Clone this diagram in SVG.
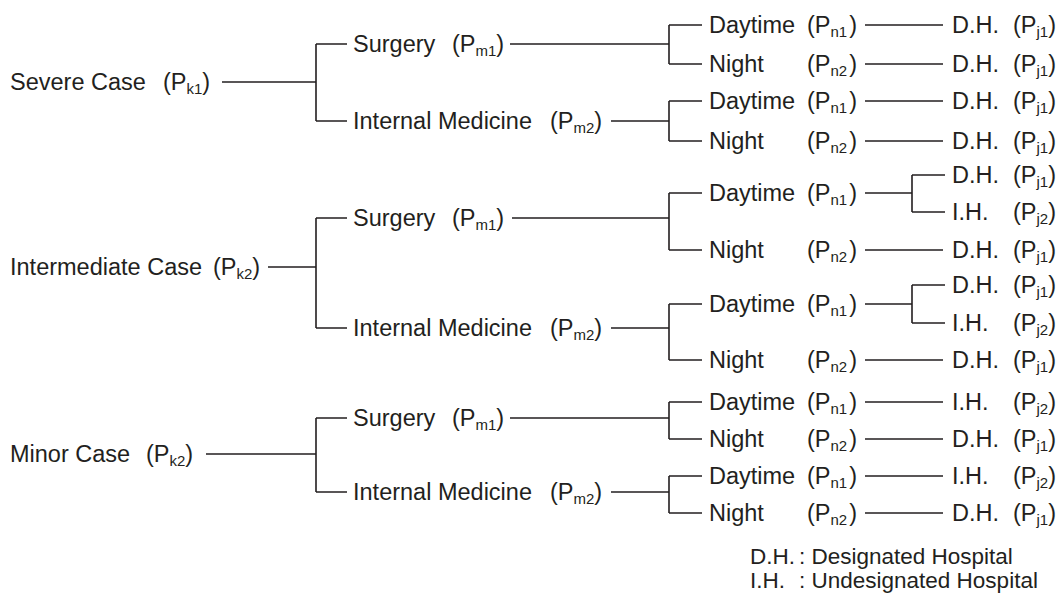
<svg xmlns="http://www.w3.org/2000/svg" width="1059" height="593" viewBox="0 0 1059 593">
<style>
text{font-family:"Liberation Sans",Arial,sans-serif;font-size:23.5px;fill:#231f20}
.s{font-size:15px}
.lg{font-size:22.5px}
.c{fill:none;stroke:#231f20;stroke-width:1.6}
</style>
<rect width="1059" height="593" fill="#fff"/>
<g id="connectors" class="c">
<path d="M222,82H316M316,44V121M316,44H347M316,121H347"/>
<path d="M268,267H316M316,218V328M316,218H347M316,328H347"/>
<path d="M206,454H316M316,418V492M316,418H347M316,492H347"/>
<path d="M510,44H669M669,25V64M669,25H702M669,64H702"/>
<path d="M611,121H669M669,101V141M669,101H702M669,141H702"/>
<path d="M512,218H669M669,193V250M669,193H702M669,250H702"/>
<path d="M611,328H669M669,304V360M669,304H702M669,360H702"/>
<path d="M510,418H669M669,402V439M669,402H702M669,439H702"/>
<path d="M611,492H669M669,476V513M669,476H702M669,513H702"/>
<path d="M865,25H943M865,64H943M865,101H943M865,141H943"/>
<path d="M865,193H912M912,175V212M912,175H945M912,212H945M865,250H943"/>
<path d="M865,304H912M912,285V323M912,285H945M912,323H945M865,360H943"/>
<path d="M865,402H943M865,439H943M865,476H943M865,513H943"/>
</g>
<g id="k1"><text x="10" y="90">Severe Case</text><text x="163" y="90">(P<tspan class="s" dy="4">k1</tspan><tspan dy="-4">)</tspan></text></g>
<g id="k2i"><text x="10" y="275">Intermediate Case</text><text x="213" y="275">(P<tspan class="s" dy="4">k2</tspan><tspan dy="-4">)</tspan></text></g>
<g id="k2m"><text x="10" y="462">Minor Case</text><text x="146" y="462">(P<tspan class="s" dy="4">k2</tspan><tspan dy="-4">)</tspan></text></g>
<g id="m1a"><text x="353" y="52">Surgery</text><text x="452" y="52">(P<tspan class="s" dy="4">m1</tspan><tspan dy="-4">)</tspan></text></g>
<g id="m2a"><text x="353" y="129">Internal Medicine</text><text x="550" y="129">(P<tspan class="s" dy="4">m2</tspan><tspan dy="-4">)</tspan></text></g>
<g id="m1b"><text x="353" y="226">Surgery</text><text x="452" y="226">(P<tspan class="s" dy="4">m1</tspan><tspan dy="-4">)</tspan></text></g>
<g id="m2b"><text x="353" y="336">Internal Medicine</text><text x="550" y="336">(P<tspan class="s" dy="4">m2</tspan><tspan dy="-4">)</tspan></text></g>
<g id="m1c"><text x="353" y="426">Surgery</text><text x="452" y="426">(P<tspan class="s" dy="4">m1</tspan><tspan dy="-4">)</tspan></text></g>
<g id="m2c"><text x="353" y="500">Internal Medicine</text><text x="550" y="500">(P<tspan class="s" dy="4">m2</tspan><tspan dy="-4">)</tspan></text></g>
<g id="n1a"><text x="709" y="33">Daytime</text><text x="807" y="33">(P<tspan class="s" dy="4">n1</tspan><tspan dx="2" dy="-4">)</tspan></text></g>
<g id="n2a"><text x="709" y="72">Night</text><text x="807" y="72">(P<tspan class="s" dy="4">n2</tspan><tspan dx="2" dy="-4">)</tspan></text></g>
<g id="n1b"><text x="709" y="109">Daytime</text><text x="807" y="109">(P<tspan class="s" dy="4">n1</tspan><tspan dx="2" dy="-4">)</tspan></text></g>
<g id="n2b"><text x="709" y="149">Night</text><text x="807" y="149">(P<tspan class="s" dy="4">n2</tspan><tspan dx="2" dy="-4">)</tspan></text></g>
<g id="n1c"><text x="709" y="201">Daytime</text><text x="807" y="201">(P<tspan class="s" dy="4">n1</tspan><tspan dx="2" dy="-4">)</tspan></text></g>
<g id="n2c"><text x="709" y="258">Night</text><text x="807" y="258">(P<tspan class="s" dy="4">n2</tspan><tspan dx="2" dy="-4">)</tspan></text></g>
<g id="n1d"><text x="709" y="312">Daytime</text><text x="807" y="312">(P<tspan class="s" dy="4">n1</tspan><tspan dx="2" dy="-4">)</tspan></text></g>
<g id="n2d"><text x="709" y="368">Night</text><text x="807" y="368">(P<tspan class="s" dy="4">n2</tspan><tspan dx="2" dy="-4">)</tspan></text></g>
<g id="n1e"><text x="709" y="410">Daytime</text><text x="807" y="410">(P<tspan class="s" dy="4">n1</tspan><tspan dx="2" dy="-4">)</tspan></text></g>
<g id="n2e"><text x="709" y="447">Night</text><text x="807" y="447">(P<tspan class="s" dy="4">n2</tspan><tspan dx="2" dy="-4">)</tspan></text></g>
<g id="n1f"><text x="709" y="484">Daytime</text><text x="807" y="484">(P<tspan class="s" dy="4">n1</tspan><tspan dx="2" dy="-4">)</tspan></text></g>
<g id="n2f"><text x="709" y="521">Night</text><text x="807" y="521">(P<tspan class="s" dy="4">n2</tspan><tspan dx="2" dy="-4">)</tspan></text></g>
<g id="j01"><text x="952" y="33">D.H.</text><text x="1013" y="33">(P<tspan class="s" dy="4">j1</tspan><tspan dy="-4">)</tspan></text></g>
<g id="j02"><text x="952" y="72">D.H.</text><text x="1013" y="72">(P<tspan class="s" dy="4">j1</tspan><tspan dy="-4">)</tspan></text></g>
<g id="j03"><text x="952" y="109">D.H.</text><text x="1013" y="109">(P<tspan class="s" dy="4">j1</tspan><tspan dy="-4">)</tspan></text></g>
<g id="j04"><text x="952" y="149">D.H.</text><text x="1013" y="149">(P<tspan class="s" dy="4">j1</tspan><tspan dy="-4">)</tspan></text></g>
<g id="j05"><text x="952" y="183">D.H.</text><text x="1013" y="183">(P<tspan class="s" dy="4">j1</tspan><tspan dy="-4">)</tspan></text></g>
<g id="j06"><text x="952" y="220">I.H.</text><text x="1013" y="220">(P<tspan class="s" dy="4">j2</tspan><tspan dy="-4">)</tspan></text></g>
<g id="j07"><text x="952" y="258">D.H.</text><text x="1013" y="258">(P<tspan class="s" dy="4">j1</tspan><tspan dy="-4">)</tspan></text></g>
<g id="j08"><text x="952" y="293">D.H.</text><text x="1013" y="293">(P<tspan class="s" dy="4">j1</tspan><tspan dy="-4">)</tspan></text></g>
<g id="j09"><text x="952" y="331">I.H.</text><text x="1013" y="331">(P<tspan class="s" dy="4">j2</tspan><tspan dy="-4">)</tspan></text></g>
<g id="j10"><text x="952" y="368">D.H.</text><text x="1013" y="368">(P<tspan class="s" dy="4">j1</tspan><tspan dy="-4">)</tspan></text></g>
<g id="j11"><text x="952" y="410">I.H.</text><text x="1013" y="410">(P<tspan class="s" dy="4">j2</tspan><tspan dy="-4">)</tspan></text></g>
<g id="j12"><text x="952" y="447">D.H.</text><text x="1013" y="447">(P<tspan class="s" dy="4">j1</tspan><tspan dy="-4">)</tspan></text></g>
<g id="j13"><text x="952" y="484">I.H.</text><text x="1013" y="484">(P<tspan class="s" dy="4">j2</tspan><tspan dy="-4">)</tspan></text></g>
<g id="j14"><text x="952" y="521">D.H.</text><text x="1013" y="521">(P<tspan class="s" dy="4">j1</tspan><tspan dy="-4">)</tspan></text></g>
<g id="legend" class="lg"><text class="lg" x="750" y="564">D.H.</text><text class="lg" x="799" y="564">: Designated Hospital</text><text class="lg" x="750" y="588">I.H.</text><text class="lg" x="799" y="588">: Undesignated Hospital</text></g>
</svg>
